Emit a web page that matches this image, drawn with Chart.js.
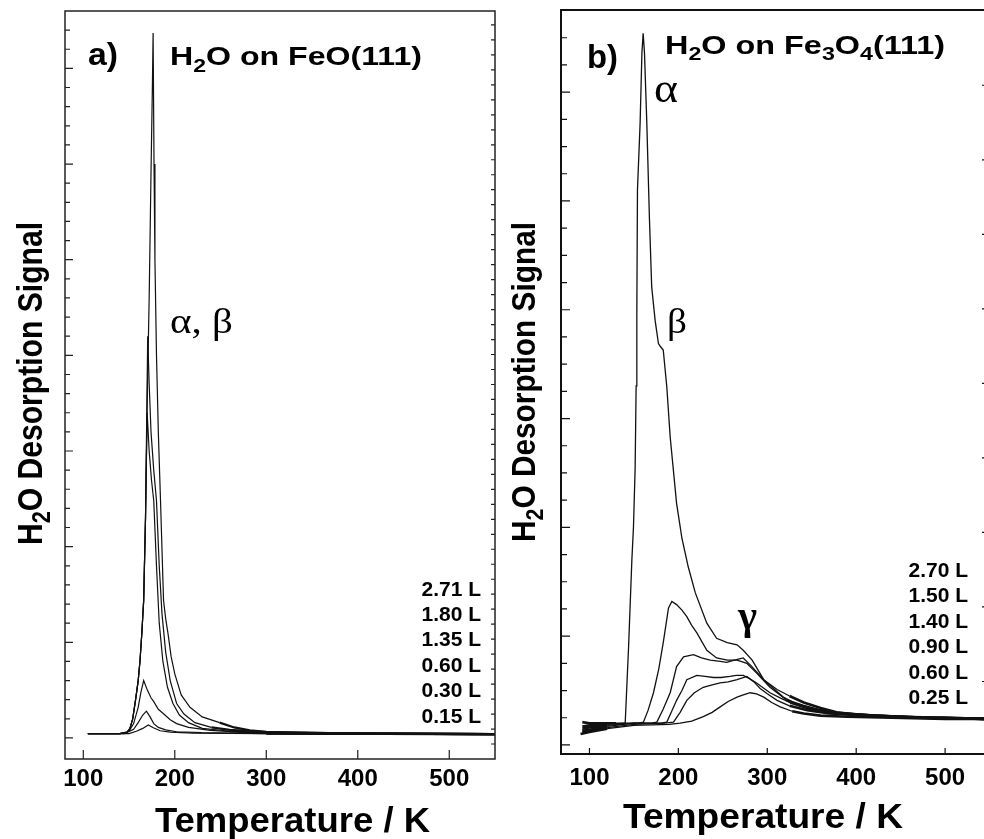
<!DOCTYPE html>
<html><head><meta charset="utf-8">
<script src="https://cdn.jsdelivr.net/npm/chart.js@4.4.1/dist/chart.umd.min.js"></script>
<style>
html,body{margin:0;padding:0;background:#fff;overflow:hidden;width:984px;height:839px;}
#wrapA{position:absolute;left:0;top:0;width:500px;height:839px;}
#wrapB{position:absolute;left:500px;top:0;width:490px;height:839px;}
canvas{display:block;}
</style></head><body>
<div id="wrapA"><canvas id="cA" width="500" height="839"></canvas></div>
<div id="wrapB"><canvas id="cB" width="490" height="839"></canvas></div>
<script>
// ---------- Panel a: H2O on FeO(111) ----------
const dosesA = ['2.71 L','1.80 L','1.35 L','0.60 L','0.30 L','0.15 L'];
const xTicksA = [100,200,300,400,500];
const yTicksA = [0,0.2,0.4,0.6,0.8,1,1.2,1.4,1.6,1.8,2,2.2,2.4,2.6,2.8,3,3.2,3.4,3.6,3.8,4,4.2,4.4,4.6,4.8,5,5.2,5.4,5.6,5.8,6,6.2,6.4,6.6,6.8,7,7.2,7.4];
const rightTicksA = [0,1,2,3,4,5,6,7,8,9,10,11,12,13,14,15,16,17,18,19,20,21,22,23,24,25,26,27,28,29,30,31,32,33,34,35,36,37,38,39,40,41,42,43,44,45,46,47,48];

const tempA_271 = [105,140,148,151,154,157,160,162,164,166,168,170,172,174,175.5,176.3,177.3,178.3,180,182,184.4,185.7,187.7,190,192.6,196,200,207,216.6,230,249,265,282,300,330,370,420,550];
const sigA_271  = [.045,.045,.06,.1,.2,.39,.6,.81,1.1,1.44,2.3,3.6,4.6,5.9,6.8,7.37,6.0,5.0,4.0,3.2,2.48,2.07,1.44,1.25,1.09,.85,.67,.45,.32,.22,.16,.11,.08,.065,.055,.05,.045,.04];
const tempA_180 = [105,140,148,151,154,157,160,162,164,166,168,170.4,172,174,177,180,183,186,190,195,202,210,222,240,260,300,400,550];
const sigA_180  = [.045,.045,.06,.1,.2,.39,.6,.81,1.1,1.44,2.3,4.2,3.7,3.2,2.8,2.48,1.8,1.3,.9,.6,.36,.25,.16,.11,.085,.06,.045,.04];
const tempA_135 = [105,140,148,151,154,157,160,162,164,166,168,169.8,172,174.5,177,180,183,187,192,198,205,215,230,260,300,400,550];
const sigA_135  = [.045,.045,.06,.1,.2,.39,.6,.81,1.1,1.44,2.3,3.4,3.0,2.7,2.48,1.8,1.2,.8,.53,.36,.24,.16,.1,.07,.055,.045,.04];
const tempA_060 = [105,140,150,155,160,163,166,170,174,177,182,188,195,202,215,239,270,320,550];
const sigA_060  = [.045,.045,.07,.15,.32,.48,.6,.5,.42,.38,.3,.25,.19,.15,.11,.08,.06,.05,.04];
const tempA_030 = [105,145,155,160,165,169,173,177,182,190,202,230,300,550];
const sigA_030  = [.045,.045,.09,.16,.24,.28,.22,.15,.11,.085,.065,.055,.045,.04];
const tempA_015 = [105,150,158,165,171,176,184,195,220,300,550];
const sigA_015  = [.045,.045,.07,.1,.135,.11,.075,.06,.05,.045,.04];

// ---------- Panel b: H2O on Fe3O4(111) ----------
const dosesB = ['2.70 L','1.50 L','1.40 L','0.90 L','0.60 L','0.25 L'];
const xTicksB = [100,200,300,400,500];
const yTicksB = [0,0.25,0.5,0.75,1,1.25,1.5,1.75,2,2.25,2.5,2.75,3,3.25,3.5,3.75,4,4.25,4.5,4.75,5,5.25,5.5,5.75,6,6.25,6.5];
const rightTicksB = [1,2,3,4,5,6,7,8,9];

const tempB_270 = [92,100,110,120,130,140.2,144,147.7,149.5,151.4,152.5,153.3,154,157,159,160.4,161.9,164.5,167.5,170,173.9,177.6,180,183,187,190.8,198,204,211,219,232,243,255,266,273,283,296,311,325,341,360,378,400,430,460,500,546];
const sigB_270  = [.21,.2,.2,.2,.2,.2,.9,1.7,2.0,2.55,3.3,4.0,5.1,5.72,6.36,6.54,6.36,5.72,4.83,4.21,3.9,3.69,3.66,3.63,3.29,2.83,2.22,1.9,1.64,1.4,1.12,.98,.94,.92,.87,.78,.6,.51,.45,.39,.34,.3,.28,.26,.25,.25,.24];
const tempB_150 = [92,100,120,140,155,160.7,166,172,178,183,188.9,192.7,198,204,209.5,215,220.8,232,243,255,266,277,288,303,322,340,359,380,410,450,500,546];
const sigB_150  = [.17,.18,.19,.2,.2,.21,.32,.48,.7,.94,1.26,1.32,1.29,1.24,1.18,1.1,1.03,.87,.8,.78,.78,.75,.66,.53,.41,.36,.32,.29,.27,.26,.25,.24];
const tempB_140 = [92,100,120,150,170,175.8,183,190.8,198,205.8,217,226,235.8,245,254.5,263,273,282.7,296,307,318,335,355,380,420,470,546];
const sigB_140  = [.15,.16,.18,.2,.2,.21,.33,.48,.72,.81,.83,.8,.78,.77,.76,.78,.8,.72,.6,.52,.44,.37,.32,.29,.27,.25,.24];
const tempB_090 = [92,100,120,150,180,187,192,198,204,209.5,220.8,230,239.5,248,258,265,273,280,288,303,315,325.8,345,370,420,480,546];
const sigB_090  = [.13,.14,.17,.2,.2,.21,.3,.41,.5,.6,.64,.63,.62,.62,.63,.64,.64,.61,.57,.48,.43,.39,.34,.3,.27,.25,.24];
const tempB_060 = [92,100,120,150,185,194.5,202,209.5,218,228,237,247,256,266,277,285,292,300,311,325,345,370,420,480,546];
const sigB_060  = [.12,.13,.16,.19,.2,.21,.3,.41,.48,.53,.55,.57,.58,.6,.63,.58,.52,.47,.41,.36,.32,.29,.27,.25,.24];
const tempB_025 = [90,100,120,150,190,202,215,228,238,247,256,266,273,280.8,288,296,305,314.5,328,341,360,390,440,500,546];
const sigB_025  = [.1,.12,.15,.18,.19,.2,.22,.26,.3,.35,.4,.44,.46,.48,.47,.44,.39,.35,.31,.29,.27,.26,.25,.24,.24];

const seriesA = [[tempA_271,sigA_271],[tempA_180,sigA_180],[tempA_135,sigA_135],[tempA_060,sigA_060],[tempA_030,sigA_030],[tempA_015,sigA_015]];
const seriesB = [[tempB_270,sigB_270],[tempB_150,sigB_150],[tempB_140,sigB_140],[tempB_090,sigB_090],[tempB_060,sigB_060],[tempB_025,sigB_025]];

const SANS = '"Liberation Sans", Arial, Helvetica, sans-serif';
const SERIF = '"Liberation Serif", "Times New Roman", serif';

function drawText(ctx, t) {
  const fam = t.serif ? SERIF : SANS;
  const wt = t.weight || 'bold';
  const subSize = t.size * 0.72, subDy = t.size * 0.25;
  let nat = 0;
  const segs = t.parts.map(p => {
    const sub = p[1] === 1;
    ctx.font = wt + ' ' + (sub ? subSize : t.size) + 'px ' + fam;
    const w = ctx.measureText(p[0]).width;
    nat += w;
    return {s: p[0], sub: sub, w: w};
  });
  const sx = t.width ? t.width / nat : 1;
  ctx.save();
  ctx.translate(t.x, t.y);
  if (t.rot) ctx.rotate(t.rot * Math.PI / 180);
  ctx.scale(sx, 1);
  let cx = t.align === 'right' ? -nat : (t.align === 'center' ? -nat / 2 : 0);
  ctx.fillStyle = '#000';
  ctx.textBaseline = 'alphabetic';
  ctx.textAlign = 'left';
  segs.forEach(g => {
    ctx.font = wt + ' ' + (g.sub ? subSize : t.size) + 'px ' + fam;
    ctx.fillText(g.s, cx, g.sub ? subDy : 0);
    cx += g.w;
  });
  ctx.restore();
}

const frameTicks = {
  id: 'frameTicks',
  afterDatasetsDraw(chart, args, o) {
    const ctx = chart.ctx, a = chart.chartArea;
    const y = chart.scales.y, yr = chart.scales.yr, x = chart.scales.x;
    ctx.save();
    ctx.strokeStyle = o.color;
    ctx.lineWidth = o.frameWidth;
    ctx.strokeRect(a.left, a.top, a.right - a.left, a.bottom - a.top);
    ctx.lineWidth = o.tickWidth;
    ctx.beginPath();
    o.yTicks.forEach(v => {
      const p = y.getPixelForValue(v);
      if (p < a.top + 2 || p > a.bottom - 2) return;
      const major = Math.abs(v - Math.round(v)) < 1e-6;
      const len = major ? o.majorLen : o.minorLen;
      ctx.moveTo(a.left, p); ctx.lineTo(a.left + len, p);
    });
    o.rightTicks.forEach(v => {
      const p = yr.getPixelForValue(v);
      if (p < a.top + 2 || p > a.bottom - 2) return;
      ctx.moveTo(a.right, p); ctx.lineTo(a.right - o.rightLen, p);
    });
    o.xTicks.forEach(v => {
      const p = x.getPixelForValue(v);
      ctx.moveTo(p, a.bottom); ctx.lineTo(p, a.bottom - o.xLen);
    });
    ctx.stroke();
    ctx.restore();
    o.texts.forEach(t => drawText(ctx, t));
    o.legend.labels.forEach((s, i) => drawText(ctx, {parts: [[s]], x: o.legend.x, y: o.legend.y0 + i * o.legend.dy, size: o.legend.size, align: 'right'}));
  }
};

function makeChart(id, series, labels, cfg) {
  return new Chart(document.getElementById(id), {
    type: 'line',
    data: {
      datasets: series.map((s, i) => ({
        label: labels[i],
        data: s[0].map((t, j) => ({x: t, y: s[1][j]})),
        borderColor: '#111', borderWidth: cfg.lineWidth, pointRadius: 0, fill: false, tension: 0,
        segment: {
          borderWidth: c => (c.p0.parsed.x >= cfg.noisyFrom || c.p1.parsed.x <= cfg.noisyTo) ? cfg.noisyWidth : cfg.lineWidth
        }
      }))
    },
    options: {
      responsive: false, animation: false, devicePixelRatio: 1,
      layout: {padding: {top: cfg.padTop, right: cfg.padRight, left: 0, bottom: 0}},
      plugins: {legend: {display: false}, tooltip: {enabled: false}, frameTicks: cfg.frame},
      scales: {
        x: {
          type: 'linear', position: 'bottom', min: cfg.xMin, max: cfg.xMax,
          afterBuildTicks: s => { s.ticks = cfg.frame.xTicks.map(v => ({value: v})); },
          afterFit: s => { s.height = cfg.xHeight; },
          grid: {display: false, drawTicks: false}, border: {display: false},
          ticks: {padding: cfg.tickPad, color: '#000', font: {family: SANS, size: 24, weight: 'bold'}, maxRotation: 0}
        },
        y: {
          type: 'linear', position: 'left', min: cfg.yMin, max: cfg.yMax,
          afterFit: s => { s.width = cfg.yWidth; },
          grid: {display: false, drawTicks: false}, border: {display: false},
          ticks: {display: false}
        },
        yr: {
          type: 'linear', position: 'right', display: false, min: cfg.yrMin, max: cfg.yrMax
        }
      }
    },
    plugins: [frameTicks]
  });
}

makeChart('cA', seriesA, dosesA, {
  lineWidth: 1.2, noisyFrom: 240, noisyTo: 0, noisyWidth: 2.2,
  padTop: 11, padRight: 5, xMin: 80, xMax: 550, xHeight: 80, tickPad: 6,
  yMin: -0.22, yMax: 7.6, yWidth: 65, yrMin: -1, yrMax: 48.93,
  frame: {
    color: '#222', frameWidth: 1.5, tickWidth: 1.2, majorLen: 8, minorLen: 5, rightLen: 4, xLen: 9,
    xTicks: xTicksA, yTicks: yTicksA, rightTicks: rightTicksA,
    legend: {labels: dosesA, x: 481, y0: 595.5, dy: 25.4, size: 21},
    texts: [
      {parts: [['a)']], x: 88, y: 65, size: 32, width: 30},
      {parts: [['H'], ['2', 1], ['O on FeO(111)']], x: 170, y: 65, size: 26, width: 252},
      {parts: [['α, β']], x: 170, y: 333, size: 36, width: 63, serif: true, weight: 'normal'},
      {parts: [['Temperature / K']], x: 155, y: 832, size: 35, width: 275},
      {parts: [['H'], ['2', 1], ['O Desorption Signal']], x: 41.5, y: 545, rot: -90, size: 35, width: 323}
    ]
  }
});

makeChart('cB', seriesB, dosesB, {
  lineWidth: 1.3, noisyFrom: 320, noisyTo: 130, noisyWidth: 2.6,
  padTop: 10, padRight: 4, xMin: 68, xMax: 546, xHeight: 85, tickPad: 10,
  yMin: -0.083, yMax: 6.755, yWidth: 61, yrMin: 0.027, yrMax: 10.01,
  frame: {
    color: '#111', frameWidth: 2, tickWidth: 1.2, majorLen: 9, minorLen: 6, rightLen: 4, xLen: 6,
    xTicks: xTicksB, yTicks: yTicksB, rightTicks: rightTicksB,
    legend: {labels: dosesB, x: 468, y0: 576.8, dy: 25.5, size: 21},
    texts: [
      {parts: [['b)']], x: 87, y: 68, size: 34, width: 31},
      {parts: [['H'], ['2', 1], ['O on Fe'], ['3', 1], ['O'], ['4', 1], ['(111)']], x: 165, y: 53.5, size: 26, width: 280},
      {parts: [['α']], x: 154, y: 102, size: 42, width: 24, serif: true, weight: 'normal'},
      {parts: [['β']], x: 167, y: 333, size: 36, width: 20, serif: true, weight: 'normal'},
      {parts: [['γ']], x: 238, y: 629, size: 40, width: 19, serif: true, weight: 'bold'},
      {parts: [['Temperature / K']], x: 123, y: 828, size: 35, width: 280},
      {parts: [['H'], ['2', 1], ['O Desorption Signal']], x: 35, y: 542, rot: -90, size: 33, width: 320}
    ]
  }
});
</script>
</body></html>
